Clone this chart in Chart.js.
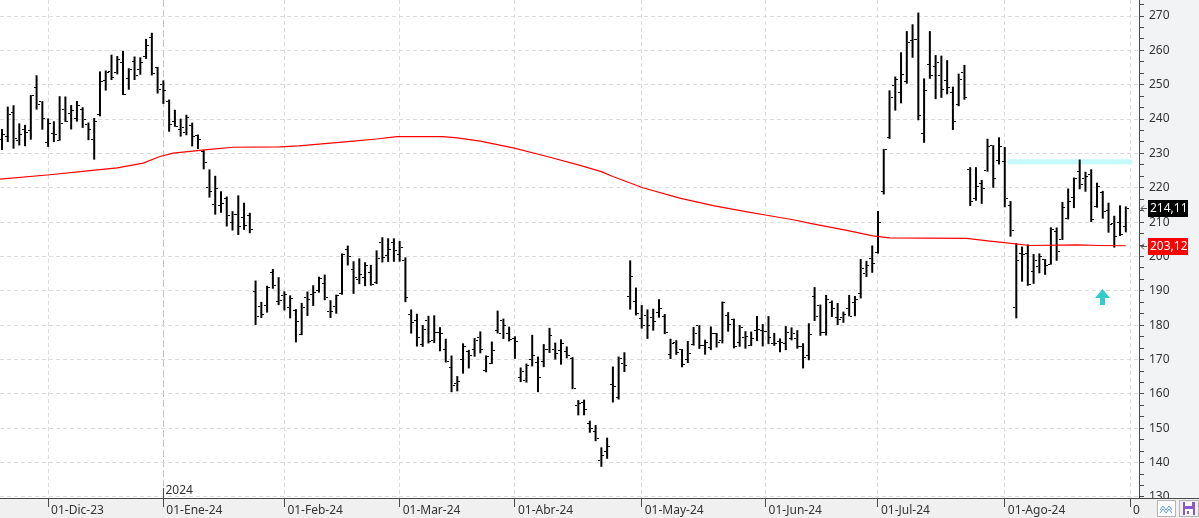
<!DOCTYPE html>
<html>
<head>
<meta charset="utf-8">
<script src="https://cdn.jsdelivr.net/npm/chart.js@4.4.1/dist/chart.umd.min.js"></script>
<style>
  html, body { margin: 0; padding: 0; background: #fff; }
</style>
</head>
<body>
<canvas id="ohlcChart" width="1199" height="518"></canvas>
<script>
// Daily bars, one per trading day, 20-Nov-23 .. 30-Aug-24 (index 0 .. 195)
const opens = [
    234.04, 235.04, 242.04, 233.75, 236.89, 236.68, 249.21, 245.14,
    233.14, 235.75, 233.87, 242.92, 241.55, 240.27, 242.74, 238.55, 234.19, 241.22, 251.21, 253.78, 253.48, 256.41, 251.90, 256.76, 254.49, 258.35, 263.66, 255.10,
    250.08, 244.98, 239.25, 236.86, 236.14, 238.11, 235.10, 230.57, 220.08, 215.10, 214.86, 216.88, 209.99, 212.26, 211.30, 211.88, 189.70, 185.50, 185.63, 195.33, 187.00,
    188.50, 185.04, 184.26, 177.21, 188.18, 189.00, 190.18, 192.11, 183.99, 185.30, 189.16, 202.06, 196.13, 193.36, 194.00, 195.31, 192.29, 204.04, 200.42, 204.18,
    200.52, 198.73, 183.05, 181.27, 174.35, 181.50, 175.45, 177.77, 173.05, 167.77, 163.16, 170.02, 172.36, 173.00, 176.39, 166.69, 168.76, 178.58, 181.41, 177.45,
    176.17, 164.75, 164.02, 170.07, 169.08, 169.34, 172.91, 173.04, 172.55, 172.34, 170.24, 156.74, 157.64, 151.25, 148.97, 140.56, 143.33, 162.84, 158.96, 168.85, 188.42, 186.98,
    182.00, 182.86, 182.10, 183.80, 182.40, 171.59, 175.01, 173.05, 170.00, 174.50, 179.90, 174.10, 173.55, 177.56, 175.51, 182.85, 181.80, 174.84, 176.40, 174.19, 178.58, 178.50,
    178.13, 174.78, 175.35, 174.60, 176.13, 176.06, 173.92, 171.12, 188.39, 185.80, 177.92, 186.56, 182.30, 182.30, 184.97, 186.54, 189.33, 195.17, 199.55,
    201.02, 218.89, 234.56, 249.81, 247.71, 251.00, 262.80, 263.30, 235.80, 255.97, 255.31, 252.73, 251.09, 247.79, 244.21, 253.60, 225.42, 216.80, 221.19, 224.90, 232.25, 227.90,
    227.69, 214.88, 185.22, 200.75, 200.77, 195.70, 197.05, 199.02, 197.76, 207.39, 205.02, 211.15, 217.07, 224.88, 222.67, 223.82, 214.46, 218.75, 213.25, 209.72, 209.80, 208.63
];
const highs = [
    237.10, 243.62, 244.01, 238.75, 238.33, 247.00, 252.75, 245.22,
    240.19, 239.37, 246.66, 246.57, 244.08, 245.27, 243.44, 238.99, 240.30, 253.88, 254.13, 258.74, 258.34, 259.84, 254.80, 258.22, 257.97, 263.34, 265.13, 255.19,
    251.25, 245.68, 242.70, 240.12, 241.25, 238.96, 235.50, 230.93, 225.34, 223.49, 218.98, 217.45, 213.19, 217.80, 215.65, 212.73, 193.00, 186.78, 191.48, 196.36, 193.97,
    189.88, 188.69, 184.68, 186.49, 189.79, 191.62, 194.12, 194.73, 187.26, 188.89, 200.88, 203.17, 198.60, 199.44, 198.32, 197.57, 201.78, 205.60, 205.30, 205.28,
    204.52, 199.75, 184.59, 183.33, 180.04, 182.73, 182.87, 179.43, 176.05, 171.17, 165.18, 174.72, 172.82, 176.25, 178.18, 171.20, 175.24, 184.25, 181.91, 179.57,
    176.75, 167.69, 168.82, 177.19, 170.86, 174.50, 179.22, 174.93, 175.88, 173.81, 170.69, 158.19, 158.33, 152.20, 150.94, 144.44, 147.26, 167.97, 170.88, 172.12, 198.87, 190.95,
    185.86, 184.60, 184.78, 187.56, 183.26, 176.06, 175.62, 173.06, 175.40, 179.49, 180.00, 175.79, 179.63, 177.75, 186.88, 183.80, 181.90, 180.08, 178.25, 178.15, 182.67, 180.32,
    182.64, 177.76, 176.15, 179.73, 179.35, 178.57, 174.75, 180.55, 191.08, 186.00, 188.81, 187.20, 186.47, 183.95, 188.80, 188.50, 199.26, 198.72, 203.20,
    213.23, 231.30, 248.35, 252.37, 259.44, 265.61, 267.59, 271.00, 251.84, 265.60, 258.62, 258.47, 257.14, 249.44, 253.21, 255.76, 225.99, 226.00, 222.28, 234.27, 232.41, 234.68,
    231.87, 216.13, 203.88, 202.90, 203.49, 200.70, 200.88, 199.26, 208.49, 208.44, 215.88, 219.80, 222.98, 228.22, 224.66, 225.41, 221.48, 219.09, 215.66, 211.84, 214.89, 214.57
];
const lows = [
    231.02, 233.34, 231.40, 232.33, 232.10, 234.01, 242.76, 236.91,
    231.90, 233.29, 233.70, 239.17, 236.98, 239.27, 237.45, 233.87, 228.20, 240.79, 248.30, 251.36, 253.01, 247.00, 248.55, 251.37, 252.91, 257.52, 252.71, 247.43,
    244.41, 236.32, 237.73, 234.90, 235.30, 232.04, 231.29, 225.37, 217.15, 212.18, 212.73, 208.74, 207.56, 206.27, 207.75, 206.77, 180.06, 182.10, 183.67, 190.61, 185.85,
    184.28, 182.00, 175.01, 177.11, 182.68, 185.58, 189.48, 187.28, 182.11, 183.35, 188.86, 197.40, 189.13, 191.95, 191.36, 191.50, 192.00, 198.26, 198.44, 198.45,
    198.50, 186.72, 177.57, 173.79, 173.70, 174.70, 174.80, 172.41, 169.15, 160.51, 160.76, 165.90, 167.42, 170.82, 171.80, 166.30, 168.73, 177.61, 176.00, 175.30,
    170.21, 163.43, 163.28, 168.01, 160.51, 167.79, 171.92, 170.01, 168.51, 170.36, 161.38, 153.75, 153.78, 148.70, 146.22, 138.80, 141.11, 157.51, 158.36, 166.37, 184.54, 182.84,
    179.01, 176.02, 178.42, 182.20, 177.40, 170.15, 171.37, 167.75, 169.00, 174.07, 173.11, 171.43, 172.75, 173.52, 174.71, 178.12, 173.26, 173.73, 173.16, 173.93, 175.38, 173.82,
    174.49, 174.00, 172.13, 172.73, 175.58, 173.17, 167.41, 169.80, 181.23, 176.92, 177.00, 182.37, 180.03, 180.69, 182.60, 182.63, 187.80, 194.05, 195.26,
    200.85, 218.06, 234.25, 242.46, 244.57, 250.30, 257.86, 239.65, 233.09, 251.73, 245.80, 246.18, 247.20, 236.83, 243.75, 245.63, 214.71, 216.23, 215.33, 224.70, 220.00, 226.79,
    214.33, 205.78, 182.00, 192.67, 191.48, 192.04, 195.11, 194.67, 197.63, 198.75, 204.82, 210.80, 214.09, 219.56, 218.86, 210.03, 214.21, 211.01, 206.94, 202.59, 205.97, 207.03
];
const closes = [
    235.60, 241.20, 234.21, 235.45, 236.08, 246.72, 244.14, 240.08,
    238.83, 235.58, 238.72, 239.37, 242.64, 243.84, 239.74, 237.01, 239.29, 251.05, 253.50, 252.08, 257.22, 247.14, 254.50, 252.54, 256.61, 261.44, 253.18, 248.48,
    248.42, 238.45, 237.93, 237.49, 240.45, 234.96, 233.94, 227.22, 218.89, 219.91, 215.55, 211.88, 212.19, 208.80, 209.14, 207.83, 182.63, 183.25, 190.93, 191.59, 187.29,
    188.86, 187.91, 181.06, 185.10, 187.58, 189.56, 193.57, 188.13, 184.02, 188.71, 200.45, 199.95, 193.76, 194.77, 197.41, 191.97, 199.40, 199.73, 202.04, 201.88,
    202.64, 188.14, 180.74, 176.54, 178.65, 175.34, 177.77, 177.54, 169.48, 162.50, 163.57, 173.80, 171.32, 175.66, 172.82, 170.83, 172.63, 177.67, 179.83, 175.79,
    175.22, 166.63, 168.38, 171.11, 164.90, 172.98, 176.88, 171.76, 174.60, 171.05, 161.48, 157.11, 155.45, 149.93, 147.05, 142.05, 144.68, 162.13, 170.18, 168.29, 194.05, 183.28,
    179.99, 180.01, 181.19, 184.76, 177.81, 174.72, 171.97, 168.47, 171.89, 177.55, 173.99, 174.84, 177.46, 174.95, 186.60, 180.11, 173.74, 179.24, 176.75, 176.19, 178.79, 178.08,
    176.29, 174.77, 175.00, 177.94, 177.48, 173.79, 170.66, 177.29, 182.47, 178.01, 187.44, 184.86, 181.57, 183.01, 182.58, 187.35, 196.37, 197.42, 197.88,
    209.86, 231.26, 246.39, 251.52, 252.94, 262.33, 263.26, 241.03, 248.23, 252.64, 256.56, 248.50, 249.23, 239.20, 251.51, 246.38, 215.99, 220.25, 219.80, 232.10, 222.62, 232.07,
    216.86, 207.67, 198.88, 200.64, 191.76, 198.84, 200.00, 197.49, 207.83, 201.38, 214.14, 216.12, 222.72, 221.10, 223.27, 210.66, 220.32, 213.21, 209.21, 205.75, 206.28, 214.11
];

// Moving average (red line) at bar positions
const smaIdx = [-0.35, 8.3, 14, 20, 24.5, 27.4, 29.7, 35.6, 40.1, 48.2, 51.5, 55.5, 61, 65, 68.5, 76.5, 79, 83, 88.7, 94.6,
    100.3, 104, 106, 111.2, 117.6, 123.4, 129.3, 132.7, 137.3, 140.7, 146.6, 151.1, 154, 167.4, 171.4, 173.2, 178.4, 186.5, 190.5, 195];
const smaVals = [222.5, 223.8, 224.8, 225.8, 227.2, 229.1, 230.1, 231.1, 231.8, 231.9, 232.2, 232.8, 233.6, 234.2, 234.9, 234.9, 234.5, 233.6, 231.6, 229.1,
    226.5, 224.7, 223.3, 220.0, 217.0, 214.8, 213.0, 212.0, 210.7, 209.5, 207.6, 206.0, 205.4, 205.3, 204.5, 204.2, 203.2, 203.4, 203.2, 203.12];

// Resistance band and signal arrow
const bandIdx = [174.9, 195.7];
const bandVals = [227.6, 227.6];
const arrowIdx = [190.95];
const arrowVals = [188.3];

// Axis ticks
const monthIdx = [8, 28, 49, 69, 89, 111, 132.5, 152, 174, 195.75];
const monthLabels = ['01-Dic-23', '01-Ene-24', '01-Feb-24', '01-Mar-24', '01-Abr-24', '01-May-24', '01-Jun-24', '01-Jul-24', '01-Ago-24', '01-Sep-24'];
const yMajor = [130, 140, 150, 160, 170, 180, 190, 200, 210, 220, 230, 240, 250, 260, 270];

const FONT = 'Noto Sans';
const AXIS = '#4a4a4a';

// minor ticks: three per major step
const yTicks = [];
yMajor.forEach(v => { yTicks.push(v, v + 10 / 3, v + 20 / 3); });

function isMajor(v) {
    return Math.abs(v / 10 - Math.round(v / 10)) < 1e-6;
}

// small images used as point styles for the open / close ticks
function tickImage(side) {
    const c = document.createElement('canvas');
    c.width = 6;
    c.height = 1;
    const g = c.getContext('2d');
    g.fillStyle = '#000';
    g.fillRect(side === 'left' ? 0 : 4, 0, 2, 1);
    return c;
}

function arrowImage() {
    const c = document.createElement('canvas');
    c.width = 15;
    c.height = 16;
    const g = c.getContext('2d');
    g.fillStyle = '#33cccc';
    g.beginPath();
    g.moveTo(7.5, 0);
    g.lineTo(15, 9);
    g.lineTo(0, 9);
    g.closePath();
    g.fill();
    g.fillRect(5, 9, 5, 7);
    return c;
}

function priceText(v) {
    return v.toFixed(2).replace('.', ',');
}

// value tag on the price axis
function drawTag(chart, value, bg) {
    const { ctx, chartArea } = chart;
    const y = Math.round(chart.scales.y.getPixelForValue(value));
    const x = chartArea.right;
    ctx.save();
    ctx.strokeStyle = '#555';
    ctx.lineWidth = 1;
    ctx.beginPath();
    ctx.moveTo(x + 2, y + 0.5);
    ctx.lineTo(x + 8, y + 0.5);
    ctx.moveTo(x + 2, y + 0.5);
    ctx.lineTo(x + 5, y - 2.5);
    ctx.moveTo(x + 2, y + 0.5);
    ctx.lineTo(x + 5, y + 3.5);
    ctx.stroke();
    ctx.fillStyle = bg;
    ctx.fillRect(x + 9, y - 8, 40, 17);
    ctx.fillStyle = '#fff';
    ctx.font = '12px "' + FONT + '"';
    ctx.textBaseline = 'middle';
    ctx.fillText(priceText(value), x + 11, y + 1);
    ctx.restore();
}

function drawButtons(ctx) {
    ctx.save();
    // first button: zigzag
    ctx.fillStyle = '#fff';
    ctx.fillRect(1157.5, 500.5, 18, 16);
    ctx.strokeStyle = '#b4b4b4';
    ctx.lineWidth = 1;
    ctx.strokeRect(1157.5, 500.5, 18, 16);
    ctx.strokeStyle = '#5b9bd5';
    ctx.beginPath();
    ctx.moveTo(1160, 510); ctx.lineTo(1163, 506); ctx.lineTo(1166, 510); ctx.lineTo(1169, 506); ctx.lineTo(1172, 510);
    ctx.moveTo(1160, 513); ctx.lineTo(1163, 509); ctx.lineTo(1166, 513); ctx.lineTo(1169, 509); ctx.lineTo(1172, 513);
    ctx.stroke();
    // second button: floppy
    ctx.strokeStyle = '#b4b4b4';
    ctx.strokeRect(1179.5, 500.5, 19, 16);
    ctx.fillStyle = '#8b58c8';
    ctx.fillRect(1183, 502, 12, 13);
    ctx.fillStyle = '#fff';
    ctx.fillRect(1185, 502, 7, 4);
    ctx.fillRect(1185, 509, 8, 6);
    ctx.fillStyle = '#8b58c8';
    ctx.fillRect(1187, 511, 2, 3);
    ctx.restore();
}

const panels = {
    id: 'panels',
    beforeDraw(chart) {
        const { ctx, chartArea: a, width, height } = chart;
        ctx.save();
        ctx.fillStyle = '#fff';
        ctx.fillRect(0, 0, width, height);
        ctx.fillStyle = '#f2f3f5';
        ctx.fillRect(a.right, 0, width - a.right, height);
        ctx.fillStyle = '#f0f0f0';
        ctx.fillRect(0, a.bottom, width, height - a.bottom);
        ctx.restore();
    },
    beforeDatasetsDraw(chart) {
        chart.ctx.imageSmoothingEnabled = false;
    },
    afterDatasetsDraw(chart) {
        chart.ctx.imageSmoothingEnabled = true;
    },
    afterDraw(chart) {
        const { ctx, chartArea: a, width, height } = chart;
        ctx.save();
        // corner below the price axis
        ctx.fillStyle = '#f0f0f0';
        ctx.fillRect(a.right + 1, a.bottom + 1, width - a.right - 1, height - a.bottom - 1);
        ctx.strokeStyle = AXIS;
        ctx.lineWidth = 1;
        ctx.setLineDash([]);
        ctx.beginPath();
        ctx.moveTo(a.right, a.bottom + 0.5);
        ctx.lineTo(width, a.bottom + 0.5);
        ctx.stroke();
        // year marker
        const xj = Math.round(chart.scales.x.getPixelForValue(monthIdx[1])) + 0.5;
        ctx.beginPath();
        ctx.moveTo(xj, a.bottom - 10);
        ctx.lineTo(xj, a.bottom);
        ctx.stroke();
        ctx.fillStyle = '#333';
        ctx.font = '12px "' + FONT + '"';
        ctx.textBaseline = 'alphabetic';
        ctx.fillText('2024', xj + 2, a.bottom - 4);
        ctx.restore();
        drawTag(chart, closes[closes.length - 1], '#000');
        drawTag(chart, smaVals[smaVals.length - 1], '#ff0000');
        drawButtons(ctx);
    }
};

// build the datasets from the arrays
const ranges = lows.map((l, i) => ({ x: i, y: [l, highs[i]] }));
const openPts = opens.map((v, i) => ({ x: i, y: v }));
const closePts = closes.map((v, i) => ({ x: i, y: v }));
const smaPts = smaIdx.map((x, i) => ({ x: x, y: smaVals[i] }));
const bandPts = bandIdx.map((x, i) => ({ x: x, y: bandVals[i] }));
const arrowPts = arrowIdx.map((x, i) => ({ x: x, y: arrowVals[i] }));

Chart.defaults.font.family = FONT;

const ctx = document.getElementById('ohlcChart').getContext('2d');
const ohlcChart = new Chart(ctx, {
    type: 'bar',
    data: {
        datasets: [
            {
                type: 'line',
                data: bandPts,
                borderColor: '#c6fafa',
                borderWidth: 5,
                borderCapStyle: 'round',
                pointRadius: 0,
                order: 5
            },
            {
                type: 'bar',
                data: ranges,
                backgroundColor: '#000',
                borderWidth: 0,
                barThickness: 2,
                grouped: false,
                inflateAmount: 0,
                order: 4
            },
            {
                type: 'line',
                data: openPts,
                showLine: false,
                pointStyle: tickImage('left'),
                pointRadius: 3,
                order: 3
            },
            {
                type: 'line',
                data: closePts,
                showLine: false,
                pointStyle: tickImage('right'),
                pointRadius: 3,
                order: 3
            },
            {
                type: 'line',
                data: smaPts,
                borderColor: '#ff0000',
                borderWidth: 1.2,
                pointRadius: 0,
                tension: 0,
                order: 1
            },
            {
                type: 'line',
                data: arrowPts,
                showLine: false,
                pointStyle: arrowImage(),
                pointRadius: 8,
                order: 0
            }
        ]
    },
    options: {
        responsive: false,
        devicePixelRatio: 1,
        animation: false,
        events: [],
        layout: { padding: 0, autoPadding: false },
        plugins: {
            legend: { display: false },
            tooltip: { enabled: false }
        },
        scales: {
            x: {
                type: 'linear',
                position: 'bottom',
                min: -0.347,
                max: 197.29,
                offset: false,
                afterBuildTicks: s => { s.ticks = monthIdx.map(v => ({ value: v })); },
                afterFit: s => { s.height = 20; s.paddingLeft = 0; s.paddingRight = 0; },
                // in v4 the grid line dash comes from border.dash
                border: { color: AXIS, dash: c => c.index === 1 ? [7, 3] : [4, 3] },
                grid: {
                    offset: false,
                    color: c => c.index === 1 ? '#c4c4c4' : '#dcdcdc',
                    tickColor: AXIS,
                    tickLength: 9,
                    tickBorderDash: []
                },
                ticks: {
                    autoSkip: false,
                    maxRotation: 0,
                    minRotation: 0,
                    align: 'start',
                    labelOffset: 3,
                    padding: -4,
                    color: '#333',
                    font: { size: 12 },
                    callback: (v, i) => monthLabels[i]
                }
            },
            y: {
                type: 'linear',
                position: 'right',
                min: 129.7,
                max: 274.66,
                afterBuildTicks: s => { s.ticks = yTicks.map(v => ({ value: v })); },
                afterFit: s => { s.width = 60; s.paddingTop = 0; s.paddingBottom = 0; },
                border: { color: AXIS, dash: [4, 3] },
                grid: {
                    color: c => isMajor(c.tick.value) ? '#dcdcdc' : 'rgba(0,0,0,0)',
                    tickColor: AXIS,
                    tickLength: 5,
                    tickBorderDash: []
                },
                ticks: {
                    autoSkip: false,
                    padding: 5,
                    color: '#333',
                    font: { size: 12 },
                    callback: v => isMajor(v) ? String(Math.round(v)) : ''
                }
            }
        }
    },
    plugins: [panels]
});
</script>
</body>
</html>
